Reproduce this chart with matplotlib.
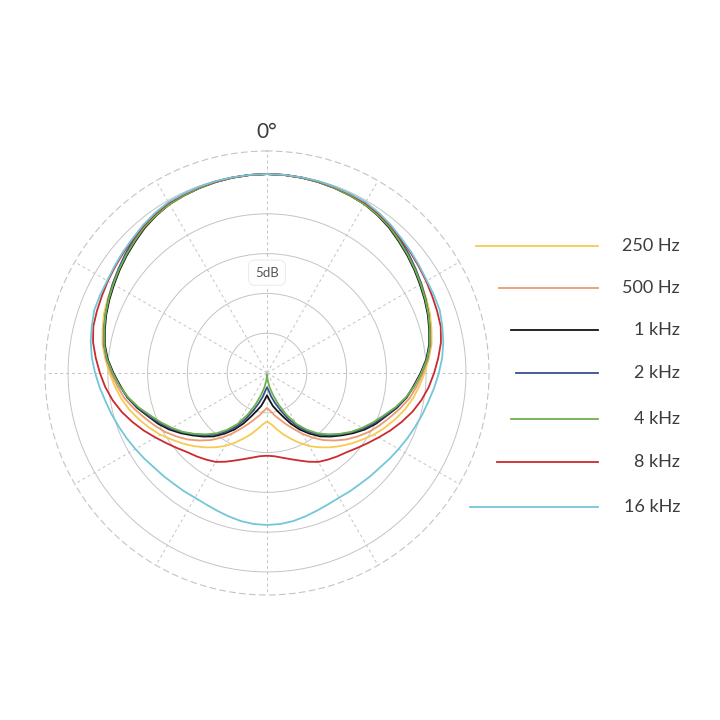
import numpy as np
import matplotlib
matplotlib.use('Agg')
import matplotlib.pyplot as plt
from matplotlib.lines import Line2D

plt.rcParams['font.family'] = ['Lato', 'DejaVu Sans']

# Polar response (dB relative to on-axis), 0..180 deg
# in 5 deg steps; the pattern is symmetric so the other half is mirrored.
angles = list(range(0, 181, 5))

db_250 = [0, -0.02, -0.07, -0.15, -0.25, -0.37, -0.5, -0.75, -1.05, -1.5, -1.9,
          -2.25, -2.6, -2.9, -3.2, -3.6, -4.0, -4.6, -5.2, -5.8, -6.4, -7.1,
          -7.9, -8.7, -9.5, -10.4, -11.2, -12.0, -12.8, -13.6, -14.4, -15.3,
          -16.2, -17.0, -17.8, -18.5, -18.9]
db_500 = [0, -0.02, -0.07, -0.15, -0.25, -0.37, -0.5, -0.75, -1.05, -1.5, -1.9,
          -2.3, -2.7, -3.05, -3.4, -3.75, -4.1, -4.7, -5.4, -6.1, -6.8, -7.7,
          -8.6, -9.4, -10.2, -11.1, -12.0, -13.0, -14.0, -15.1, -16.2, -17.3,
          -18.2, -19.0, -19.6, -20.2, -20.6]
db_1k = [0, -0.02, -0.07, -0.15, -0.25, -0.37, -0.5, -0.8, -1.15, -1.6, -2.0,
         -2.4, -2.8, -3.15, -3.5, -3.9, -4.3, -4.9, -5.7, -6.5, -7.2, -8.1,
         -9.1, -9.9, -10.8, -11.8, -12.8, -13.7, -14.6, -15.7, -16.8, -18.0,
         -19.2, -20.1, -20.8, -21.6, -22.2]
db_2k = [0, -0.02, -0.06, -0.1, -0.2, -0.27, -0.35, -0.6, -0.9, -1.3, -1.75,
         -2.2, -2.6, -3.0, -3.4, -3.8, -4.2, -4.8, -5.6, -6.4, -7.2, -8.2,
         -9.2, -10.1, -11.0, -12.0, -13.0, -13.9, -14.9, -16.0, -17.2, -18.6,
         -20.0, -21.1, -22.0, -22.8, -23.2]
db_4k = [0, -0.02, -0.07, -0.15, -0.25, -0.37, -0.5, -0.75, -1.05, -1.5, -1.9,
         -2.3, -2.7, -3.05, -3.4, -3.8, -4.2, -4.8, -5.6, -6.4, -7.3, -8.3,
         -9.4, -10.3, -11.2, -12.1, -13.1, -14.1, -15.1, -16.3, -17.6, -19.2,
         -20.8, -22.2, -23.2, -24.1, -24.8]
db_8k = [0, -0.02, -0.05, -0.1, -0.15, -0.22, -0.3, -0.55, -0.85, -1.2, -1.45,
         -1.7, -1.9, -2.1, -2.25, -2.4, -2.8, -3.4, -4.0, -4.6, -5.3, -6.1,
         -7.0, -7.9, -8.8, -9.6, -10.3, -10.9, -11.3, -11.7, -12.1, -12.7,
         -13.3, -13.8, -14.2, -14.5, -14.6]
db_16k = [0, -0.01, -0.03, -0.05, -0.1, -0.15, -0.2, -0.45, -0.75, -1.1, -1.35,
          -1.6, -1.8, -1.85, -1.9, -2.2, -2.5, -2.9, -3.4, -3.9, -4.4, -4.8,
          -5.2, -5.55, -5.9, -6.2, -6.5, -6.65, -6.8, -6.85, -6.9, -6.8,
          -6.6, -6.35, -6.1, -5.95, -5.9]

labels = ['250 Hz', '500 Hz', '1 kHz', '2 kHz', '4 kHz', '8 kHz', '16 kHz']
colors = ['#F6CB52', '#EE9A6E', '#141414', '#3A4E8C', '#6DB24F', '#CB2A2F', '#72C7D8']
series = [db_250, db_500, db_1k, db_2k, db_4k, db_8k, db_16k]

floor_db = -25     # centre of the plot
outer_r = 27.9     # dashed outer circle

fig = plt.figure(figsize=(7.2, 7.2), dpi=100)
ax = fig.add_axes([0.0625, 0.1736, 0.6167, 0.6167], projection='polar')
ax.set_theta_zero_location('N')
ax.set_theta_direction(-1)
ax.set_ylim(0, outer_r)

ax.set_thetagrids(range(0, 360, 30), labels=[''] * 12)
ax.set_rgrids([5, 10, 15, 20, 25], labels=[''] * 5)
ax.grid(axis='x', color='#c4c4c4', linestyle=(0, (3, 3)), linewidth=0.7)
ax.grid(axis='y', color='#c4c4c4', linestyle='-', linewidth=0.7)
ax.spines['polar'].set_linestyle((0, (5, 4)))
ax.spines['polar'].set_color('#c4c4c4')
ax.spines['polar'].set_linewidth(0.8)

ang = np.array(angles, dtype=float)
full_ang = np.concatenate([ang, 360 - ang[::-1][1:]])
for vals, c in zip(series, colors):
    v = np.array(vals, dtype=float)
    full_v = np.concatenate([v, v[::-1][1:]])
    ax.plot(np.radians(full_ang), full_v - floor_db, color=c, linewidth=1.3)

ax.text(0, 30.3, '0°', ha='center', va='center', fontsize=15,
        color='#3c3c3c', clip_on=False)
ax.text(0, 12.6, '5dB', ha='center', va='center', fontsize=9.5,
        color='#555555',
        bbox=dict(boxstyle='round,pad=0.5', fc='white', ec='#ececec', lw=0.8))

# legend on the right: lines start a fixed gap outside the outer circle
W = 720.0
cx, cy, R = 267.0, 373.0, 222.0
leg_y = [246, 288, 330, 373, 419, 462, 507]
for lab, c, y in zip(labels, colors, leg_y):
    x0 = cx + np.sqrt(max(R ** 2 - (y - cy) ** 2, 0)) + 26.5
    fig.add_artist(Line2D([x0 / W, 598 / W], [1 - y / W, 1 - y / W],
                          color=c, linewidth=1.3))
    fig.text(680 / W, 1 - y / W, lab, ha='right', va='center',
             fontsize=13, color='#3c3c3c')

fig.savefig('out.png', dpi=100, facecolor='white')
